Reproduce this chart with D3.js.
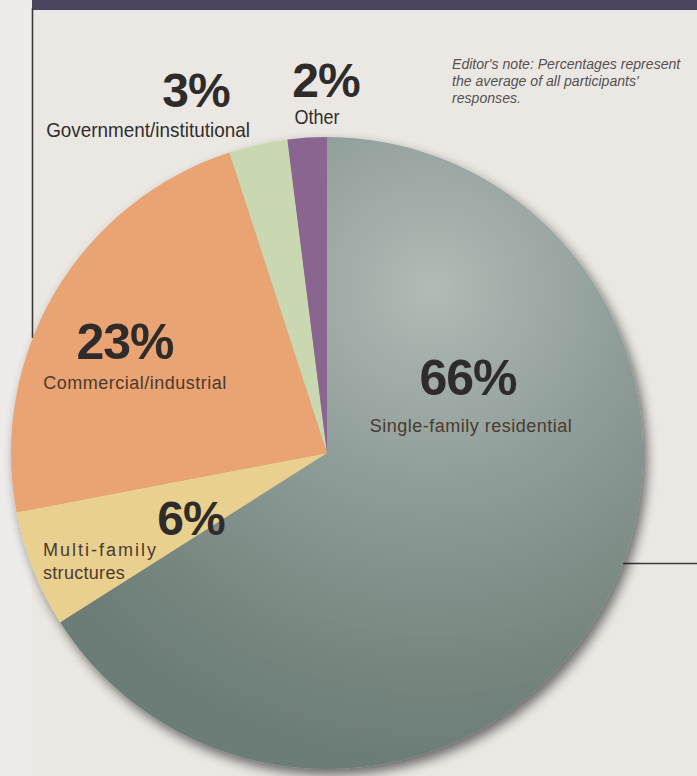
<!DOCTYPE html>
<html>
<head>
<meta charset="utf-8">
<script src="https://cdn.jsdelivr.net/npm/d3@7"></script>
<style>
  html, body { margin: 0; padding: 0; background: #ebe8e4; }
  svg { display: block; }
</style>
</head>
<body>
<svg id="chart" width="697" height="776"></svg>
<script>
// Building types served, share of work (percent)
const categories = ["Single-family residential", "Multi-family structures", "Commercial/industrial", "Government/institutional", "Other"];
const shares = [66, 6, 23, 3, 2];
const sliceColors = ["url(#grayShade)", "#ead08e", "#eaa372", "#c9d8b0", "#8a6590"];
const valueLabels = ["66%", "6%", "23%", "3%", "2%"];
const noteLines = ["Editor's note: Percentages represent", "the average of all participants'", "responses."];

const W = 697, H = 776;
const cx = 327, cy = 453, radius = 316;

const svg = d3.select("#chart");
const defs = svg.append("defs");

// soft drop shadow under the disc
const shadow = defs.append("filter").attr("id", "discShadow")
  .attr("x", "-10%").attr("y", "-10%").attr("width", "125%").attr("height", "125%");
shadow.append("feGaussianBlur").attr("in", "SourceAlpha").attr("stdDeviation", 6).attr("result", "blur");
shadow.append("feOffset").attr("in", "blur").attr("dx", 4).attr("dy", 6).attr("result", "off");
shadow.append("feComponentTransfer").attr("in", "off").attr("result", "shade")
  .append("feFuncA").attr("type", "linear").attr("slope", 0.55);
const merge = shadow.append("feMerge");
merge.append("feMergeNode").attr("in", "shade");
merge.append("feMergeNode").attr("in", "SourceGraphic");

// glossy shading of the large slice (coordinates relative to the disc centre)
const g1 = defs.append("radialGradient").attr("id", "grayShade")
  .attr("gradientUnits", "userSpaceOnUse")
  .attr("cx", 105).attr("cy", -165).attr("r", 470);
[[0, "#b2bcb7"], [0.2, "#a0aca7"], [0.5, "#899893"], [0.8, "#77877f"], [1, "#6c7c77"]]
  .forEach(([o, c]) => g1.append("stop").attr("offset", o).attr("stop-color", c));

// page furniture: margin strip, header band, rules
svg.append("rect").attr("x", 0).attr("y", 0).attr("width", 32).attr("height", H).attr("fill", "#eeecea");
svg.append("rect").attr("x", 32).attr("y", 0).attr("width", W - 32).attr("height", 10).attr("fill", "#4b4562");
svg.append("line").attr("x1", 32.5).attr("x2", 32.5).attr("y1", 8).attr("y2", 338)
  .attr("stroke", "#3a3838").attr("stroke-width", 1.6);
svg.append("line").attr("x1", 600).attr("x2", W).attr("y1", 563.5).attr("y2", 563.5)
  .attr("stroke", "#3a3838").attr("stroke-width", 1.4);

// pie
const pie = d3.pie().sort(null).value(d => d).startAngle(0).endAngle(2 * Math.PI);
const arc = d3.arc().innerRadius(0).outerRadius(radius);
const arcs = pie(shares);

const disc = svg.append("g").attr("transform", `translate(${cx},${cy})`).attr("filter", "url(#discShadow)");
disc.selectAll("path").data(arcs).join("path")
  .attr("d", arc)
  .attr("fill", (d, i) => sliceColors[i]);

// label placement (page coordinates); each caption line: [x, y, text, letter-spacing]
const labelLayout = {
  "Single-family residential": { value: [468, 395], name: [[471, 432]], size: 50, nameSize: 18, nameFont: "uni" },
  "Multi-family structures":   { value: [191, 535], name: [[43, 556, "Multi-family", 2], [43, 579, "structures", 0.3]], size: 48, nameSize: 18, nameFont: "uni", anchor: "start" },
  "Commercial/industrial":     { value: [125, 359], name: [[135, 389]], size: 50, nameSize: 18, nameFont: "uni" },
  "Government/institutional":  { value: [196, 107], name: [[148, 137]], size: 48, nameSize: 21, nameFont: "narrow", squeeze: 0.9 },
  "Other":                     { value: [326, 97], name: [[317, 124]], size: 48, nameSize: 20, nameFont: "narrow", squeeze: 0.9 }
};

const fonts = {
  bold: "'Liberation Sans', Arial, sans-serif",
  uni: "'Liberation Sans', Arial, sans-serif",
  narrow: "'Liberation Sans', Arial, sans-serif"
};

// condensed look for the narrow captions
function placeText(sel, x, y, squeeze) {
  if (squeeze) sel.attr("transform", `translate(${x},${y}) scale(${squeeze},1)`);
  else sel.attr("x", x).attr("y", y);
  return sel;
}

const labels = svg.append("g");
categories.forEach((cat, i) => {
  const L = labelLayout[cat];
  labels.append("text")
    .attr("x", L.value[0]).attr("y", L.value[1])
    .attr("text-anchor", "middle")
    .attr("font-family", fonts.bold).attr("font-weight", "bold")
    .attr("font-size", L.size).attr("fill", "#2f2b2b")
    .attr("letter-spacing", -1)
    .text(valueLabels[i]);
  L.name.forEach(n => {
    const t = labels.append("text")
      .attr("text-anchor", L.anchor || "middle")
      .attr("font-family", fonts[L.nameFont])
      .attr("font-size", L.nameSize)
      .attr("letter-spacing", n[3] != null ? n[3] : (L.nameFont === "uni" ? 0.5 : 0))
      .attr("fill", L.nameFont === "uni" ? "#4a3a30" : "#2f2d2d")
      .text(n[2] || cat);
    placeText(t, n[0], n[1], L.squeeze);
  });
});

// editor's note
const note = svg.append("g");
noteLines.forEach((d, i) => {
  const t = note.append("text")
    .attr("font-family", fonts.narrow).attr("font-style", "italic")
    .attr("font-size", 15).attr("fill", "#545150")
    .text(d);
  placeText(t, 452, 69 + i * 17, 0.94);
});
</script>
</body>
</html>
